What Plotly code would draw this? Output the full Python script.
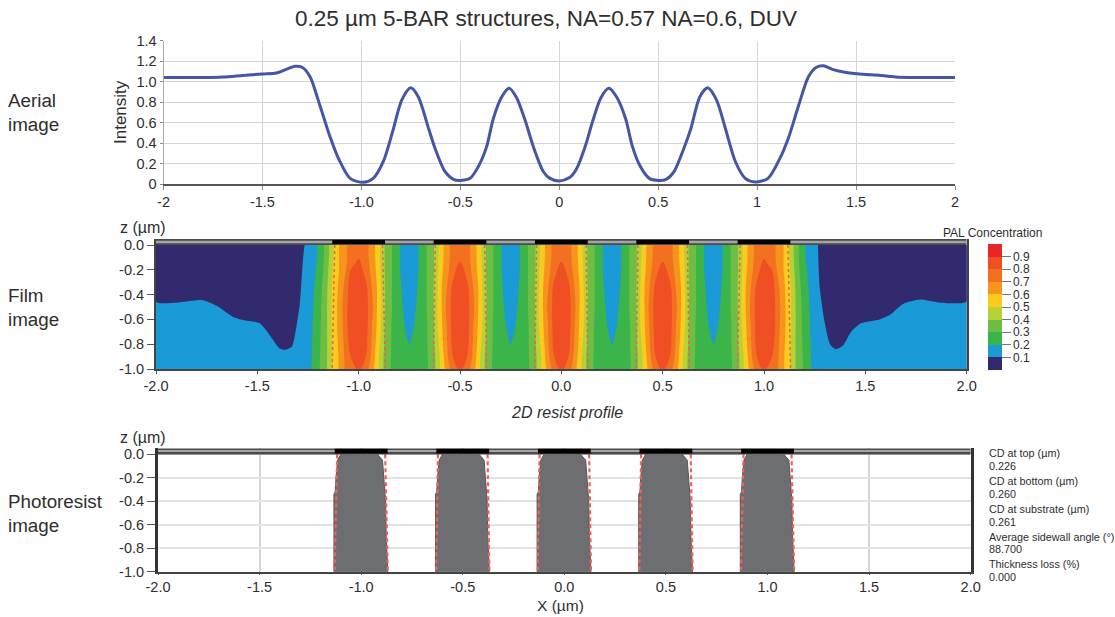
import plotly.graph_objects as go

W, H = 1115, 617
FONT = "Liberation Sans"
INK = "#2e2e30"

# ---------- aerial image ----------
aerial_x = [-2, -1.8, -1.7, -1.6, -1.5, -1.43, -1.38, -1.335, -1.3, -1.26, -1.21, -1.158, -1.116, -1.057, -0.99,
            -0.94, -0.889, -0.838, -0.796, -0.75, -0.712, -0.66, -0.628, -0.577, -0.535, -0.498, -0.451, -0.409,
            -0.367, -0.333, -0.291, -0.253, -0.215, -0.173, -0.131, -0.08, -0.047, 0,
            0.05, 0.085, 0.13, 0.17, 0.21, 0.25, 0.29, 0.335, 0.37, 0.41, 0.455, 0.5, 0.54, 0.58, 0.63, 0.665,
            0.71, 0.75, 0.795, 0.84, 0.89, 0.94, 0.99, 1.055, 1.115, 1.16, 1.21, 1.26, 1.3, 1.335, 1.38, 1.45,
            1.55, 1.6, 1.7, 1.8, 2]
aerial_y = [1.04, 1.04, 1.045, 1.06, 1.075, 1.085, 1.12, 1.15, 1.14, 1.05, 0.77, 0.46, 0.25, 0.055, 0.016,
            0.055, 0.22, 0.54, 0.82, 0.94, 0.85, 0.54, 0.35, 0.12, 0.045, 0.035, 0.055, 0.17,
            0.365, 0.64, 0.85, 0.935, 0.84, 0.625, 0.365, 0.12, 0.055, 0.03,
            0.06, 0.14, 0.36, 0.62, 0.84, 0.935, 0.85, 0.64, 0.365, 0.17, 0.055, 0.035, 0.045, 0.12, 0.35, 0.54,
            0.85, 0.94, 0.82, 0.54, 0.22, 0.055, 0.02, 0.055, 0.25, 0.46, 0.77, 1.05, 1.14, 1.155, 1.12, 1.09,
            1.07, 1.065, 1.045, 1.04, 1.04]
aerial_xticks = [-2, -1.5, -1, -0.5, 0, 0.5, 1, 1.5, 2]
aerial_xlabels = ["-2", "-1.5", "-1.0", "-0.5", "0", "0.5", "1", "1.5", "2"]
aerial_yticks = [0, 0.2, 0.4, 0.6, 0.8, 1.0, 1.2, 1.4]
aerial_ylabels = ["0", "0.2", "0.4", "0.6", "0.8", "1.0", "1.2", "1.4"]

# ---------- film image: PAL concentration sampled at depth rows ----------
z_rows = [0, -0.1, -0.2, -0.35, -0.5, -0.65, -0.8, -0.9, -1.0]
line_centers = [-1.0, -0.5, 0.0, 0.5, 1.0]
offsets_inner = [0, .02, .04, .055, .07, .09, .11, .13, .165, .205, .23, .25]
pal_inner = [
    [.78, .75, .72, .685, .64, .565, .475, .39, .30, .20, .165, .15],
    [.79, .76, .72, .69, .64, .57, .48, .39, .30, .20, .165, .15],
    [.82, .80, .75, .70, .65, .58, .49, .39, .30, .20, .165, .15],
    [.85, .84, .81, .74, .68, .60, .50, .40, .30, .21, .17, .155],
    [.86, .85, .82, .77, .70, .60, .51, .40, .30, .22, .18, .165],
    [.86, .85, .82, .75, .68, .59, .50, .39, .29, .23, .195, .18],
    [.85, .84, .81, .74, .665, .57, .475, .385, .29, .25, .22, .20],
    [.84, .83, .79, .72, .65, .55, .45, .37, .285, .265, .25, .24],
    [.81, .79, .73, .68, .62, .54, .45, .365, .285, .265, .25, .24],
]
offsets_outer = [0, .02, .04, .055, .07, .09, .11, .13, .165, .205, .234, .26]
pal_outer = [
    [.78, .75, .73, .705, .67, .62, .56, .47, .32, .20, .17, .15],
    [.795, .76, .73, .705, .67, .62, .56, .47, .32, .20, .17, .15],
    [.84, .83, .80, .72, .68, .62, .56, .49, .33, .21, .17, .15],
    [.87, .86, .83, .79, .72, .64, .58, .51, .35, .225, .175, .15],
    [.88, .87, .84, .80, .74, .66, .585, .515, .36, .24, .18, .15],
    [.88, .87, .84, .80, .73, .655, .585, .515, .36, .25, .185, .15],
    [.86, .85, .83, .78, .715, .645, .575, .505, .36, .26, .19, .15],
    [.84, .83, .80, .75, .705, .635, .565, .50, .365, .265, .195, .15],
    [.81, .79, .76, .73, .70, .63, .565, .50, .365, .27, .20, .15],
]
pal_far_field = 0.15
dark_left_x = [-2, -2, -1.9, -1.77, -1.70, -1.62, -1.57, -1.49, -1.44, -1.39, -1.365, -1.33, -1.31, -1.29, -1.275, -1.267]
dark_left_z = [0, -.457, -.465, -.445, -.49, -.58, -.605, -.63, -.725, -.835, -.845, -.82, -.685, -.47, -.12, 0]
dark_right_x = [1.266, 1.274, 1.30, 1.325, 1.354, 1.39, 1.43, 1.48, 1.57, 1.62, 1.686, 1.77, 1.87, 2, 2]
dark_right_z = [0, -.33, -.63, -.80, -.84, -.81, -.70, -.63, -.60, -.565, -.475, -.44, -.465, -.455, 0]
pal_colors = ["#312a6e", "#1a9ad6", "#3bb44a", "#6fbe44", "#b5d334", "#fdca1e",
              "#f7941d", "#f37021", "#f04e23", "#e8262a"]
pal_ticks = [.1, .2, .3, .4, .5, .6, .7, .8, .9]

# ---------- mask and resist ----------
mask_edges = [-1.13, -0.87, -0.63, -0.37, -0.13, 0.13, 0.37, 0.63, 0.87, 1.13]
resist_z = [0, -.02, -.05, -.2, -.32, -.34, -1.0, -1.0, -.7, -.4, -.3, -.2, -.05, -.02, 0]
resist_offset = [-.10, -.108, -.116, -.124, -.128, -.134, -.134, .131, .123, .12, .115, .111, .105, .09, .08]
target_top = [-1.118, -.882, -.622, -.378, -.122, .122, .378, .622, .882, 1.118]
target_bottom = [-1.131, -.869, -.631, -.369, -.131, .131, .369, .631, .869, 1.131]
film_xticks = [-2, -1.5, -1, -.5, 0, .5, 1, 1.5, 2]
film_xlabels = ["-2.0", "-1.5", "-1.0", "-0.5", "0.0", "0.5", "1.0", "1.5", "2.0"]
z_ticks = [0, -.2, -.4, -.6, -.8, -1]
z_labels = ["0.0", "-0.2", "-0.4", "-0.6", "-0.8", "-1.0"]
stats = [("CD at top (\u00b5m)", "0.226"), ("CD at bottom (\u00b5m)", "0.260"), ("CD at substrate (\u00b5m)", "0.261"),
         ("Average sidewall angle (\u00b0)", "88.700"), ("Thickness loss (%)", "0.000")]

# ---------- assemble PAL table ----------
pal_x, cols = [], []
def add(x, values):
    pal_x.append(round(x, 4)); cols.append(values)
col = lambda tbl, j: [row[j] for row in tbl]
add(-2.0, [pal_far_field] * len(z_rows))
for j in range(len(offsets_outer) - 1, 0, -1):
    add(-1.0 - offsets_outer[j], col(pal_outer, j))
add(-1.0, col(pal_outer, 0))
for p in line_centers:
    if p != -1.0:
        for j in range(len(offsets_inner) - 2, 0, -1):
            add(p - offsets_inner[j], col(pal_inner, j))
        add(p, col(pal_outer if p == 1.0 else pal_inner, 0))
    if p != 1.0:
        for j in range(1, len(offsets_inner)):
            add(p + offsets_inner[j], col(pal_inner, j))
for j in range(1, len(offsets_outer)):
    add(1.0 + offsets_outer[j], col(pal_outer, j))
add(2.0, [pal_far_field] * len(z_rows))
pal_z = [[c[i] for c in cols] for i in range(len(z_rows))]

scale = []
for i, c in enumerate(pal_colors):
    scale += [[i / 10, c], [(i + 1) / 10, c]]

def px(x): return x / W
def py(y): return 1 - y / H

fig = go.Figure()
# aerial
fig.add_trace(go.Scatter(x=aerial_x, y=aerial_y, mode="lines", line=dict(color="#4456a6", width=3, shape="spline", smoothing=0.8), xaxis="x", yaxis="y"))
# film
fig.add_trace(go.Contour(x=pal_x, y=z_rows, z=pal_z, xaxis="x2", yaxis="y2", zmin=0, zmax=1,
                         autocontour=False, contours=dict(start=.1, end=.9, size=.1, coloring="fill", showlines=False),
                         line=dict(width=0, smoothing=1), colorscale=scale,
                         colorbar=dict(x=px(988), xanchor="left", y=py(370), yanchor="bottom", len=126, lenmode="pixels",
                                       thickness=14, thicknessmode="pixels", tickvals=pal_ticks,
                                       ticktext=[f"{t:.1f}" for t in pal_ticks], ticks="outside", ticklen=9, tickcolor="#777",
                                       outlinewidth=0, tickfont=dict(family=FONT, size=12, color=INK), xpad=0, ypad=0)))
for xs, zs in ((dark_left_x, dark_left_z), (dark_right_x, dark_right_z)):
    fig.add_trace(go.Scatter(x=xs, y=zs, mode="lines", fill="toself", fillcolor=pal_colors[0],
                             line=dict(width=0, shape="spline", smoothing=0.6), xaxis="x2", yaxis="y2"))
# resist
for c in line_centers:
    fig.add_trace(go.Scatter(x=[c + o for o in resist_offset], y=resist_z, mode="lines", fill="toself",
                             fillcolor="#6d6e71", line=dict(color="#55565a", width=1), xaxis="x3", yaxis="y3"))
# dashed target edges and mask bars on both panels
for xa, ya, mask_y, w_out, w_in, w_blk in (("x2", "y2", .024, 6, 2.5, 4), ("x3", "y3", .028, 7, 2, 5)):
    for top, bottom in zip(target_top, target_bottom):
        fig.add_trace(go.Scatter(x=[top, bottom], y=[0, -1], mode="lines",
                                 line=dict(color="#f0605a", width=1.5 if xa == "x2" else 2.2, dash="3px,3px" if xa == "x2" else "4px,3px"), xaxis=xa, yaxis=ya))
    fig.add_trace(go.Scatter(x=[-2, 2], y=[mask_y, mask_y], mode="lines", line=dict(color="#4a4a4c", width=w_out), xaxis=xa, yaxis=ya))
    fig.add_trace(go.Scatter(x=[-2, 2], y=[mask_y, mask_y], mode="lines", line=dict(color="#a4a4a6", width=w_in), xaxis=xa, yaxis=ya))
    bx, by = [], []
    for a, b in zip(mask_edges[0::2], mask_edges[1::2]):
        bx += [a, b, None]; by += [mask_y, mask_y, None]
    fig.add_trace(go.Scatter(x=bx, y=by, mode="lines", line=dict(color="#000000", width=w_blk), xaxis=xa, yaxis=ya))

tickfont = dict(family=FONT, size=14.5, color=INK)
def dom(a, b, size): return [a / size, b / size]
GRID = "#d3d6d9"
layout = dict(
    width=W, height=H, margin=dict(l=0, r=0, t=0, b=0, autoexpand=False), paper_bgcolor="white", plot_bgcolor="white", showlegend=False,
    font=dict(family=FONT, color=INK),
    title=dict(text="0.25 \u00b5m 5-BAR structures, NA=0.57 NA=0.6, DUV", x=546 / W, xanchor="center", y=py(18), yanchor="middle",
               font=dict(family=FONT, size=22.5, color=INK)),
    xaxis=dict(domain=dom(163.5, 955, W), range=[-2, 2], tickvals=aerial_xticks, ticktext=aerial_xlabels, showgrid=True, gridcolor=GRID,
               gridwidth=1.2, ticks="outside", ticklen=4, tickcolor="#888", showline=True, linecolor="#5a5350", linewidth=2, tickfont=tickfont,
               zeroline=False, anchor="y", automargin=False),
    yaxis=dict(domain=[py(184), py(40.7)], range=[0, 1.4], tickvals=aerial_yticks, ticktext=aerial_ylabels, showgrid=True, gridcolor=GRID,
               gridwidth=1.2, ticks="outside", ticklen=3, tickcolor="#888", showline=True, linecolor="#aaa", linewidth=1, tickfont=tickfont,
               zeroline=False, anchor="x", automargin=False, title=dict(text="Intensity", font=dict(family=FONT, size=17, color=INK), standoff=5)),
    xaxis2=dict(domain=dom(156, 966.7, W), range=[-2, 2], tickvals=film_xticks, ticktext=film_xlabels, showgrid=False, ticks="outside", ticklen=3,
                tickcolor="#555", showline=True, linecolor="#444", linewidth=2, tickfont=tickfont, zeroline=False, anchor="y2"),
    yaxis2=dict(domain=[py(369), py(238.8)], range=[-1, .05], tickvals=z_ticks, ticktext=z_labels, showgrid=False, ticks="outside", ticklen=7,
                tickcolor="#555", showline=True, linecolor="#444", linewidth=2, mirror=True, tickfont=tickfont, zeroline=False, anchor="x2"),
    xaxis3=dict(domain=dom(158, 970.7, W), range=[-2, 2], tickvals=film_xticks, ticktext=film_xlabels, showgrid=True, gridcolor=GRID, gridwidth=1.5,
                ticks="outside", ticklen=1, tickcolor="#555", showline=True, linecolor="#444", linewidth=2, tickfont=tickfont, zeroline=False, anchor="y3"),
    yaxis3=dict(domain=[py(571.7), py(448.4)], range=[-1, .05], tickvals=z_ticks, ticktext=z_labels, showgrid=True, gridcolor="#e2e3e4", gridwidth=1.5,
                ticks="outside", ticklen=8, tickcolor="#555", showline=True, linecolor="#333", linewidth=3, mirror=True, tickfont=tickfont, zeroline=False, anchor="x3"),
)
fig.update_layout(**layout)

def note(text, x, y, size, anchor="left", italic=False):
    fig.add_annotation(text=f"<i>{text}</i>" if italic else text, xref="paper", yref="paper", x=px(x), y=py(y), xanchor=anchor, yanchor="middle",
                       showarrow=False, font=dict(family=FONT, size=size, color=INK), align="left", borderpad=0, borderwidth=0)

for txt, y in (("Aerial", 101), ("image", 125), ("Film", 295), ("image", 319), ("Photoresist", 501), ("image", 525)):
    note(txt, 8, y, 18.8)
note("z (\u00b5m)", 120, 228, 16)
note("z (\u00b5m)", 120, 437, 16)
note("PAL Concentration", 943, 233, 12)
note("2D resist profile", 567, 412, 16, "center", True)
note("X (\u00b5m)", 560, 605, 15.5, "center")
stat_y = [453, 466, 481, 494, 509, 522, 537, 549, 564, 577]
flat = [t for pair in stats for t in pair]
for txt, y in zip(flat, stat_y):
    note(txt, 989, y, 10.8)

fig.write_html("out.html", config=dict(displayModeBar=False), post_script="document.body.style.margin='0';document.body.style.overflow='hidden';")
